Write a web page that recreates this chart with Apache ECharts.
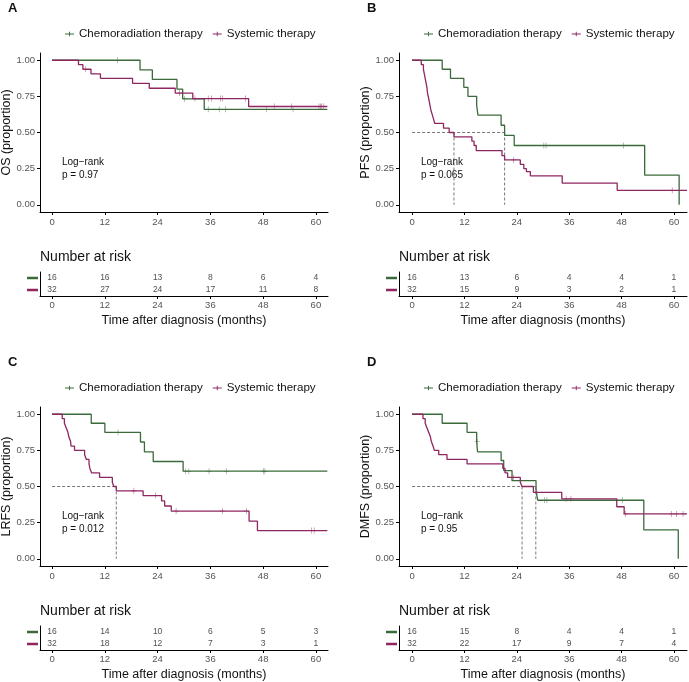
<!DOCTYPE html>
<html>
<head>
<meta charset="utf-8">
<script src="https://cdn.jsdelivr.net/npm/echarts@6/dist/echarts.min.js"></script>
<style>
  html, body { margin: 0; padding: 0; background: #fff; }
  #main { width: 689px; height: 682px; }
</style>
</head>
<body>
<div id="main"></div>
<script>
// ---- data ----
const monthTicks = [0, 12, 24, 36, 48, 60]
const propTicks = [0, 0.25, 0.5, 0.75, 1]
const riskTimes = [0, 12, 24, 36, 48, 60]

// A: OS
const osChemoT = [0, 20.0, 22.8, 28.4, 29.7, 34.6, 62.6]
const osChemoS = [1, 0.933, 0.867, 0.80, 0.733, 0.66, 0.66]
const osChemoCens = [14.9, 30.1, 35.5, 38.0, 39.5, 48.8, 54.8]
const osSysT = [0, 6.0, 7.0, 8.85, 11.0, 18.3, 22.1, 28.0, 32.0, 44.7, 62.6]
const osSysS = [1, 0.969, 0.9375, 0.906, 0.875, 0.84, 0.806, 0.773, 0.735, 0.68, 0.68]
const osSysCens = [7.6, 29.0, 32.5, 35.5, 36.3, 38.3, 38.8, 44.0, 50.5, 54.5, 60.7, 61.0, 61.3, 61.8]
const osRiskChemo = [16, 16, 13, 8, 6, 4]
const osRiskSys = [32, 27, 24, 17, 11, 8]
const osMedians = []

// B: PFS
const pfsChemoT = [0, 6.9, 8.8, 11.85, 12.8, 14.8, 15.1, 20.4, 21.2, 23.4, 53.3, 61.2]
const pfsChemoS = [1, 0.9375, 0.875, 0.8125, 0.75, 0.6875, 0.62, 0.55, 0.48, 0.41, 0.205, 0]
const pfsChemoCens = [30.2, 30.7, 48.4]
const pfsSysT = [0, 2.1, 2.6, 2.8, 3.0, 3.2, 3.4, 3.5, 3.7, 3.9, 4.1, 4.3, 4.6, 4.9, 5.2, 7.2, 8.5, 9.6, 13.7, 14.2, 14.7, 20.6, 21.2, 24.8, 25.6, 26.2, 27.1, 34.4, 47.0, 63.0]
const pfsSysS = [1, 0.969, 0.9375, 0.906, 0.875, 0.844, 0.8125, 0.78, 0.75, 0.72, 0.6875, 0.656, 0.625, 0.594, 0.5625, 0.53, 0.50, 0.47, 0.44, 0.41, 0.375, 0.34, 0.31, 0.28, 0.25, 0.23, 0.20, 0.15, 0.10, 0.10]
const pfsSysCens = [23.3, 59.6]
const pfsRiskChemo = [16, 13, 6, 4, 4, 1]
const pfsRiskSys = [32, 15, 9, 3, 2, 1]
const pfsMedians = [9.6, 21.2]

// C: LRFS
const lrfsChemoT = [0, 8.9, 12.0, 20.1, 21.0, 23.0, 29.8, 62.6]
const lrfsChemoS = [1, 0.9375, 0.875, 0.808, 0.74, 0.673, 0.606, 0.606]
const lrfsChemoCens = [15.0, 30.4, 31.1, 35.7, 39.6, 48.1, 48.4]
const lrfsSysT = [0, 2.3, 2.8, 3.2, 3.6, 3.8, 4.2, 4.3, 5.1, 7.4, 7.8, 8.4, 8.6, 9.0, 10.8, 13.7, 14.05, 14.6, 20.7, 24.9, 25.6, 27.1, 44.8, 46.7, 62.6]
const lrfsSysS = [1, 0.969, 0.9375, 0.906, 0.875, 0.844, 0.8125, 0.78, 0.75, 0.72, 0.6875, 0.656, 0.625, 0.594, 0.5625, 0.53, 0.50, 0.47, 0.437, 0.40, 0.365, 0.33, 0.26, 0.195, 0.195]
const lrfsSysCens = [18.6, 23.5, 28.2, 38.7, 44.2, 59.0, 59.6]
const lrfsRiskChemo = [16, 14, 10, 6, 5, 3]
const lrfsRiskSys = [32, 18, 12, 7, 3, 1]
const lrfsMedians = [14.6]

// D: DMFS
const dmfsChemoT = [0, 6.9, 12.6, 14.8, 15.0, 20.4, 21.0, 22.9, 28.4, 28.8, 53.1, 61.0]
const dmfsChemoS = [1, 0.9375, 0.875, 0.81, 0.74, 0.68, 0.61, 0.54, 0.47, 0.405, 0.20, 0]
const dmfsChemoCens = [14.9, 30.3, 30.9, 48.2]
const dmfsSysT = [0, 2.5, 3.0, 3.4, 3.8, 4.2, 4.4, 4.8, 5.1, 6.1, 8.0, 12.6, 20.8, 21.3, 21.9, 24.8, 25.2, 27.8, 34.3, 46.9, 48.6, 63.0]
const dmfsSysS = [1, 0.969, 0.9375, 0.906, 0.875, 0.844, 0.8125, 0.78, 0.75, 0.72, 0.6875, 0.656, 0.625, 0.594, 0.5625, 0.53, 0.50, 0.46, 0.415, 0.36, 0.31, 0.31]
const dmfsSysCens = [23.2, 28.6, 35.3, 36.4, 48.9, 59.5, 60.6, 62.1]
const dmfsRiskChemo = [16, 15, 8, 4, 4, 1]
const dmfsRiskSys = [32, 22, 17, 9, 7, 4]
const dmfsMedians = [25.2, 28.35]

// ---- styling ----
const green = '#3b6a3b'
const maroon = '#8e2660'
const font = 'Liberation Sans, Arial, Helvetica, sans-serif'
const plusIcon = 'path://M0,4.5h10v1H0z M4.5,0h1v10h-1z'
const legendIcon = 'path://M0,4.5h10v1H0z M4.5,2.5h1v5h-1z'

const panels = [
  { letter: 'A', ylab: 'OS (proportion)', left: 40, top: 0, xmin: -2.75, xmax: 62.75,
    cT: osChemoT, cS: osChemoS, cC: osChemoCens, sT: osSysT, sS: osSysS, sC: osSysCens,
    rc: osRiskChemo, rs: osRiskSys, med: osMedians, p: 'p = 0.97' },
  { letter: 'B', ylab: 'PFS (proportion)', left: 399, top: 0, xmin: -3, xmax: 63,
    cT: pfsChemoT, cS: pfsChemoS, cC: pfsChemoCens, sT: pfsSysT, sS: pfsSysS, sC: pfsSysCens,
    rc: pfsRiskChemo, rs: pfsRiskSys, med: pfsMedians, p: 'p = 0.065' },
  { letter: 'C', ylab: 'LRFS (proportion)', left: 40, top: 354, xmin: -2.75, xmax: 62.75,
    cT: lrfsChemoT, cS: lrfsChemoS, cC: lrfsChemoCens, sT: lrfsSysT, sS: lrfsSysS, sC: lrfsSysCens,
    rc: lrfsRiskChemo, rs: lrfsRiskSys, med: lrfsMedians, p: 'p = 0.012' },
  { letter: 'D', ylab: 'DMFS (proportion)', left: 399, top: 354, xmin: -3, xmax: 63,
    cT: dmfsChemoT, cS: dmfsChemoS, cC: dmfsChemoCens, sT: dmfsSysT, sS: dmfsSysS, sC: dmfsSysCens,
    rc: dmfsRiskChemo, rs: dmfsRiskSys, med: dmfsMedians, p: 'p = 0.95' }
]

function survAt(T, S, t) {
  let s = S[0]
  for (let i = 0; i < T.length; i++) if (T[i] <= t) s = S[i]
  return s
}

const axisLineStyle = { show: true, onZero: false, lineStyle: { color: '#000', width: 1 } }
const tickStyle = { show: true, length: 3, lineStyle: { color: '#000', width: 1 } }
const labelStyle = { fontFamily: font, fontSize: 9.5, color: '#555' }

let grids = [], xAxes = [], yAxes = [], series = [], legends = [], graphics = []

panels.forEach((p, i) => {
  // KM plot grid
  grids.push({ left: p.left, top: p.top + 53, width: 288, height: 159, outerBoundsMode: 'none', containLabel: false })
  xAxes.push({
    type: 'value', gridIndex: i, min: p.xmin, max: p.xmax,
    axisLine: axisLineStyle, splitLine: { show: false },
    axisTick: Object.assign({ customValues: monthTicks }, tickStyle),
    axisLabel: Object.assign({ customValues: monthTicks, margin: 5 }, labelStyle)
  })
  yAxes.push({
    type: 'value', gridIndex: i, min: -0.05, max: 1.05,
    axisLine: axisLineStyle, splitLine: { show: false },
    axisTick: Object.assign({ customValues: propTicks }, tickStyle),
    axisLabel: Object.assign({ customValues: propTicks, margin: 5, formatter: v => v.toFixed(2) }, labelStyle),
    name: p.ylab, nameLocation: 'middle', nameRotate: 90, nameGap: 27,
    nameTextStyle: { fontFamily: font, fontSize: 12.5, color: '#111' }
  })

  // median dashed lines
  if (p.med.length) {
    const mx = Math.max(...p.med)
    series.push({
      type: 'line', xAxisIndex: i, yAxisIndex: i, symbol: 'none', silent: true,
      lineStyle: { color: '#555', width: 0.8, type: [3, 2] },
      data: [[0, 0.5], [mx, 0.5]]
    })
    p.med.forEach(m => {
      series.push({
        type: 'line', xAxisIndex: i, yAxisIndex: i, symbol: 'none', silent: true,
        lineStyle: { color: '#555', width: 0.8, type: [3, 2] },
        data: [[m, 0.5], [m, 0]]
      })
    })
  }

  // step curves
  const curves = [
    { name: 'Chemoradiation therapy', T: p.cT, S: p.cS, C: p.cC, color: green },
    { name: 'Systemic therapy', T: p.sT, S: p.sS, C: p.sC, color: maroon }
  ]
  curves.forEach(c => {
    series.push({
      name: c.name, type: 'line', step: 'end', xAxisIndex: i, yAxisIndex: i,
      symbol: 'none', color: c.color,
      lineStyle: { color: c.color, width: 1.3 },
      data: c.T.map((t, k) => [t, c.S[k]])
    })
    series.push({
      name: c.name + ' censored', type: 'scatter', xAxisIndex: i, yAxisIndex: i,
      symbol: plusIcon, symbolSize: [5, 6],
      itemStyle: { color: c.color },
      data: c.C.map(t => [t, survAt(c.T, c.S, t)])
    })
  })

  // legend
  legends.push({
    left: p.left + 20, top: p.top + 23, width: 300, itemWidth: 9, itemHeight: 9, itemGap: 10,
    icon: legendIcon,
    data: ['Chemoradiation therapy', 'Systemic therapy'],
    textStyle: { fontFamily: font, fontSize: 11.6, color: '#111', padding: [0, 0, 0, 0] }
  })

  // texts
  graphics.push({ type: 'text', left: p.left - 32, top: p.top + 2,
    style: { text: p.letter, font: 'bold 13px ' + font, fill: '#111' } })
  graphics.push({ type: 'text', left: p.left + 22, top: p.top + 157,
    style: { text: 'Log\u2212rank', font: '10px ' + font, fill: '#111' } })
  graphics.push({ type: 'text', left: p.left + 22, top: p.top + 170,
    style: { text: p.p, font: '10px ' + font, fill: '#111' } })
  graphics.push({ type: 'text', left: p.left, top: p.top + 250,
    style: { text: 'Number at risk', font: '14px ' + font, fill: '#111' } })
})

// risk tables
panels.forEach((p, i) => {
  const g = 4 + i
  grids.push({ left: p.left, top: p.top + 272, width: 288, height: 24, outerBoundsMode: 'none', containLabel: false })
  xAxes.push({
    type: 'value', gridIndex: g, min: p.xmin, max: p.xmax,
    axisLine: axisLineStyle, splitLine: { show: false },
    axisTick: Object.assign({ customValues: monthTicks }, tickStyle),
    axisLabel: Object.assign({ customValues: monthTicks, margin: 4 }, labelStyle),
    name: 'Time after diagnosis (months)', nameLocation: 'middle', nameGap: 18,
    nameTextStyle: { fontFamily: font, fontSize: 12.5, color: '#111' }
  })
  yAxes.push({
    type: 'category', gridIndex: g, inverse: true, data: ['c', 's'],
    axisLine: axisLineStyle, axisTick: { show: false }, splitLine: { show: false },
    axisLabel: {
      interval: 0, margin: 2,
      formatter: v => v === 'c' ? '{g|}' : '{m|}',
      rich: {
        g: { backgroundColor: green, width: 11, height: 2.5 },
        m: { backgroundColor: maroon, width: 11, height: 2.5 }
      }
    }
  })
  const rows = [p.rc, p.rs]
  rows.forEach((vals, r) => {
    series.push({
      type: 'scatter', xAxisIndex: g, yAxisIndex: g, symbolSize: 0, silent: true,
      label: { show: true, position: 'inside', fontFamily: font, fontSize: 8.5, color: '#222',
        formatter: d => String(d.value[2]) },
      data: riskTimes.map((t, k) => [t, r, vals[k]])
    })
  })
})

const chart = echarts.init(document.getElementById('main'), null, { renderer: 'canvas' })
chart.setOption({
  animation: false,
  backgroundColor: '#fff',
  grid: grids,
  xAxis: xAxes,
  yAxis: yAxes,
  legend: legends,
  series: series,
  graphic: graphics
})
</script>
</body>
</html>
